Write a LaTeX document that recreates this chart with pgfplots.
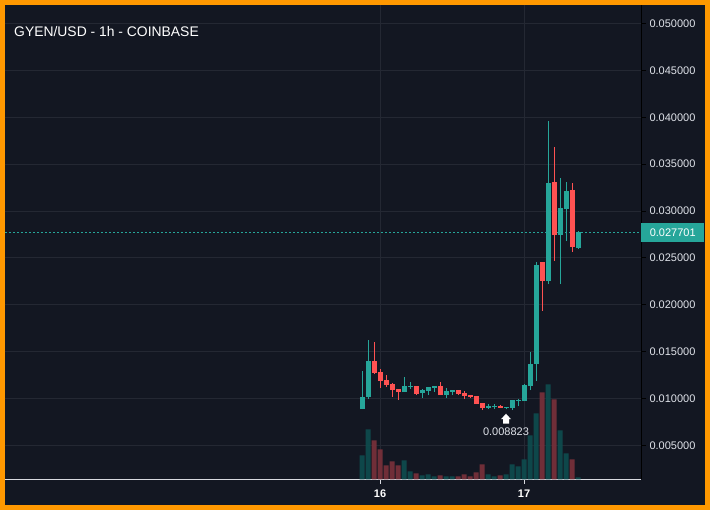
\documentclass[border=0pt]{standalone}
\usepackage{pgfplots}
\usepackage{pgfplotstable}
\usepackage{fontspec}
\setmainfont{Liberation Sans}
\pgfplotsset{compat=1.18}
\definecolor{bgc}{HTML}{131722}
\definecolor{orangeb}{HTML}{FF9800}
\definecolor{upc}{HTML}{26A69A}
\definecolor{dnc}{HTML}{FF5252}
\definecolor{gridc}{HTML}{242833}
\definecolor{txtc}{HTML}{E0E3EA}
\definecolor{axc}{HTML}{D8DAE0}
\definecolor{vup}{HTML}{0E4C4E}
\definecolor{vdn}{HTML}{78303A}
\pgfdeclareplotmark{uparrow}{%
  \pgfpathmoveto{\pgfqpoint{0pt}{-4pt}}%
  \pgfpathlineto{\pgfqpoint{5pt}{-9.5pt}}%
  \pgfpathlineto{\pgfqpoint{3pt}{-9.5pt}}%
  \pgfpathlineto{\pgfqpoint{3pt}{-14pt}}%
  \pgfpathlineto{\pgfqpoint{-3pt}{-14pt}}%
  \pgfpathlineto{\pgfqpoint{-3pt}{-9.5pt}}%
  \pgfpathlineto{\pgfqpoint{-5pt}{-9.5pt}}%
  \pgfpathclose\pgfusepathqfill}
% x  low  high  bodylow  bodyhigh
\pgfplotstableread{
x lo hi bl bh
0 .00885 .01290 .00885 .01013
1 .00995 .01620 .01013 .01397
7 .01066 .01226 .01066 .01130
8 .01098 .01173 .01119 .01130
10 .01002 .01098 .01055 .01087
11 .01034 .01119 .01077 .01119
12 .01066 .01130 .01109 .01130
14 .01002 .01109 .01034 .01077
15 .01034 .01087 .01066 .01087
21 .00885 .00938 .00896 .00917
22 .00885 .00938 .00906 .00917
24 .008823 .00906 .00896 .00906
25 .00874 .00981 .00896 .00981
26 .00917 .00991 .00970 .00981
27 .00970 .01151 .00970 .01141
28 .01087 .01493 .01130 .01365
29 .01183 .02452 .01365 .02420
31 .02217 .03955 .02249 .03294
33 .02217 .03348 .02740 .03028
34 .02676 .03305 .03017 .03209
36 .02591 .02782 .02601 .027701
}\upT
\pgfplotstableread{
x lo hi bl bh
2 .01258 .01599 .01269 .01397
3 .01109 .01311 .01183 .01279
4 .01119 .01247 .01141 .01194
5 .01013 .01162 .01087 .01151
6 .00981 .01098 .01066 .01098
9 .01034 .01130 .01045 .01130
13 .01034 .01173 .01034 .01130
16 .01034 .01087 .01045 .01087
17 .00991 .01077 .01023 .01055
18 .01002 .01034 .01013 .01034
19 .00938 .01023 .00938 .01023
20 .00874 .00949 .00896 .00949
23 .00896 .00927 .00896 .00917
30 .01930 .02452 .02249 .02452
32 .02463 .03678 .02740 .03305
35 .02559 .03294 .02612 .03220
}\dnT
\pgfplotstableread{
x v
0 24
1 50
7 19
8 8
10 4
11 5
12 3
14 3
15 3
21 5
22 3
24 5
25 15
26 13
27 20
28 44
29 66
31 95
33 49
34 26
36 2
}\vupT
\pgfplotstableread{
x v
2 39
3 30
4 14
5 18
6 14
9 6
13 4
16 3
17 5
18 3
19 7
20 15
23 4
30 87
32 80
35 20
}\vdnT
\begin{document}
\begin{tikzpicture}[x=1pt,y=1pt]
\fill[orangeb] (0,0) rectangle (710,510);
\fill[bgc] (5,5) rectangle (705,505);
% price
\begin{axis}[at={(5pt,30.5pt)},anchor=south west,scale only axis,width=636pt,height=474.5pt,
  xmin=-59.5,xmax=46.5,ymin=0.001386,ymax=0.051972,
  axis x line*=bottom,axis y line*=right,
  x axis line style={draw=axc,line width=1pt,-},
  y axis line style={draw=black,line width=1pt,-},
  xtick={3,27},xticklabels={16,17},
  ytick={0.005,0.01,0.015,0.02,0.025,0.03,0.035,0.04,0.045,0.05},
  scaled y ticks=false,
  yticklabel style={/pgf/number format/fixed,/pgf/number format/fixed zerofill,/pgf/number format/precision=6,/pgf/number format/assume math mode=true},
  tick align=outside,major tick length=4.5pt,
  x tick style={draw=axc,line width=1pt},
  y tick style={draw=black,line width=1pt},
  grid=major,major grid style={draw=gridc,line width=1pt},
  x tick label style={font=\bfseries\fontsize{11}{13}\selectfont,text=white,yshift=-2pt},
  y tick label style={font=\fontsize{11}{13}\selectfont,text=txtc,xshift=0.5pt},
  clip=true,clip mode=individual]
\addplot[upc,line width=1pt,dash pattern=on 2pt off 2pt,forget plot] coordinates {(-59.5,0.027701)(46.5,0.027701)};
\addplot[draw=none,mark=none,forget plot,error bars/.cd,y dir=plus,y explicit,error mark=none,
  error bar style={upc,line width=1pt}] table[x=x,y expr=\thisrow{lo}+0.00005,y error expr=\thisrow{hi}-\thisrow{lo}] {\upT};
\addplot[draw=none,mark=none,forget plot,error bars/.cd,y dir=plus,y explicit,error mark=none,
  error bar style={upc,line width=5pt}] table[x=x,y expr=\thisrow{bl}+0.00005,y error expr=\thisrow{bh}-\thisrow{bl}] {\upT};
\addplot[draw=none,mark=none,forget plot,error bars/.cd,y dir=plus,y explicit,error mark=none,
  error bar style={dnc,line width=1pt}] table[x=x,y expr=\thisrow{lo}+0.00005,y error expr=\thisrow{hi}-\thisrow{lo}] {\dnT};
\addplot[draw=none,mark=none,forget plot,error bars/.cd,y dir=plus,y explicit,error mark=none,
  error bar style={dnc,line width=5pt}] table[x=x,y expr=\thisrow{bl}+0.00005,y error expr=\thisrow{bh}-\thisrow{bl}] {\dnT};
\addplot[only marks,mark=uparrow,mark options={white,fill=white,draw=none},forget plot] coordinates {(24,0.008823)};
\node[font=\fontsize{11}{13}\selectfont,text=txtc,inner sep=0pt,yshift=-22pt] at (axis cs:24,0.008823) {0.008823};
\node[fill=upc,text=white,font=\fontsize{11}{13}\selectfont,minimum width=63pt,minimum height=19pt,inner sep=0pt,anchor=west] at (axis cs:46.5,0.027701) {0.027701};
\end{axis}
% volume
\begin{axis}[at={(5pt,30.5pt)},anchor=south west,scale only axis,width=636pt,height=474.5pt,
  xmin=-59.5,xmax=46.5,ymin=0,ymax=474.5,hide axis]
\addplot[ybar,bar width=5pt,bar shift=0pt,fill=vup,fill opacity=0.92,draw=none] table[x=x,y=v] {\vupT};
\addplot[ybar,bar width=5pt,bar shift=0pt,fill=vdn,fill opacity=0.92,draw=none] table[x=x,y=v] {\vdnT};
\end{axis}
\node[anchor=west,font=\fontsize{13.9}{16}\selectfont,text=white,inner sep=0pt] at (14,478.5) {GYEN/USD - 1h - COINBASE};
\end{tikzpicture}
\end{document}
